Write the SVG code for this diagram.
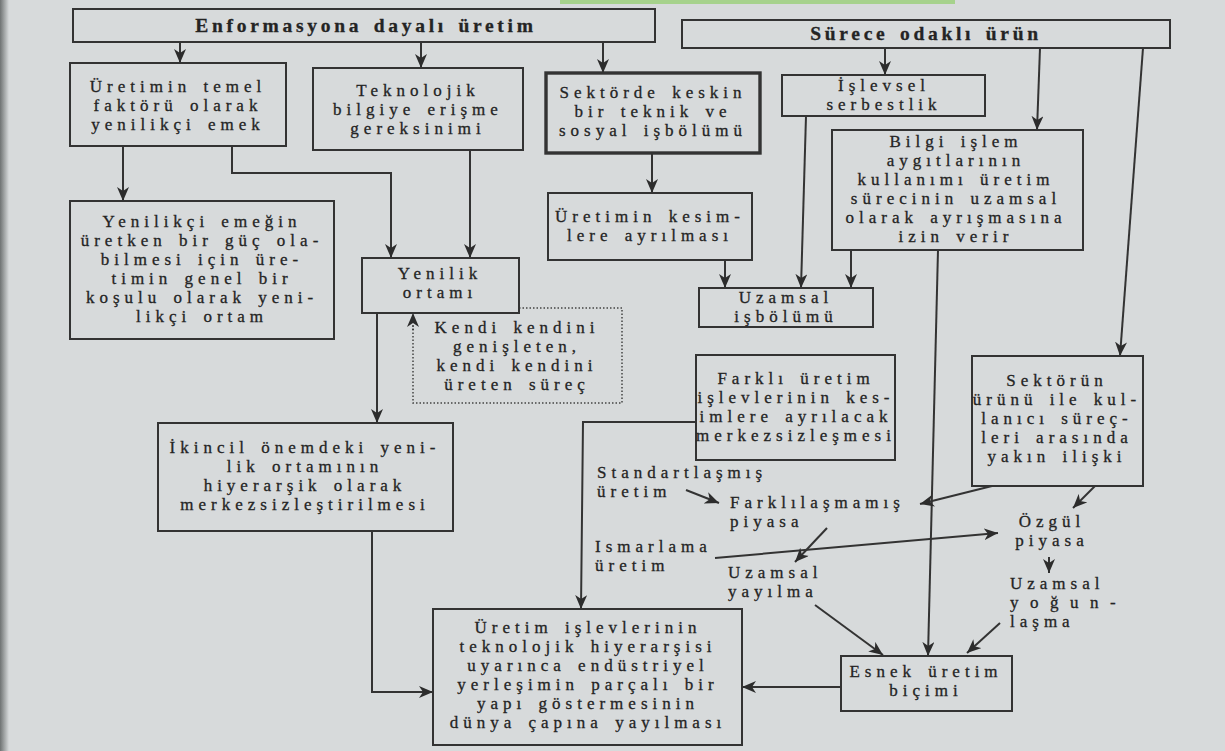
<svg xmlns="http://www.w3.org/2000/svg" width="1225" height="751" viewBox="0 0 1225 751">
<defs>
<linearGradient id="edge" x1="0" x2="1" y1="0" y2="0"><stop offset="0" stop-color="#6f7373"/><stop offset="1" stop-color="#d7dadb"/></linearGradient>
<marker id="ah" markerUnits="userSpaceOnUse" markerWidth="15" markerHeight="12" refX="14" refY="6" orient="auto"><path d="M0,0 L14,6 L0,12 L4,6 z" fill="#2c2c2c"/></marker>
<style>
.box{fill:none;stroke:#333;stroke-width:2}
.thick{stroke-width:3.4}
.t{font-family:"Liberation Serif","Times New Roman",serif;font-size:17px;letter-spacing:5px;word-spacing:3px;fill:#242424;stroke:#242424;stroke-width:0.3px;text-anchor:middle}
.l{text-anchor:start}
.b{font-weight:bold;font-size:19.5px;letter-spacing:3.7px}
.c{fill:none;stroke:#333;stroke-width:2;marker-end:url(#ah)}
.d{fill:none;stroke:#444;stroke-width:1.5;stroke-dasharray:1.5 2}
</style>
</defs>
<rect x="0" y="0" width="1225" height="751" fill="#d7dadb"/>
<rect x="0" y="0" width="9" height="751" fill="url(#edge)"/>
<rect x="560" y="0" width="395" height="4" fill="#a6d28c"/>

<g id="connectors">
<path class="c" d="M180,42 V63"/>
<path class="c" d="M421,42 V68"/>
<path class="c" d="M603,42 V73"/>
<path class="c" d="M885,48 V75"/>
<path class="c" d="M1040,48 L1037,130"/>
<path class="c" d="M1143,48 L1120,356"/>
<path class="c" d="M123,146 V201"/>
<path class="c" d="M232,146 V173 H391 V258"/>
<path class="c" d="M470,150 V258"/>
<path class="c" d="M652,153 V193"/>
<path class="c" d="M725,260 V288"/>
<path class="c" d="M806,116 L801,288"/>
<path class="c" d="M851,250 V288"/>
<path class="c" d="M938,250 L928,656"/>
<path class="c" d="M377,313 V423"/>
<path class="d" d="M519,308 H622 V403 H413 V326"/>
<path class="c" d="M413,330 V313" style="stroke-width:1.5;stroke-dasharray:1.5 2"/>
<path class="c" d="M372,531 V692 H433"/>
<path class="c" d="M696,422 H583 L581,609"/>
<path class="c" d="M841,687 H742"/>
<path class="c" d="M686,490 L719,503"/>
<path class="c" d="M992,486 L920,504"/>
<path class="c" d="M1095,486 L1073,508"/>
<path class="c" d="M1049,557 V573"/>
<path class="c" d="M715,558 L998,533"/>
<path class="c" d="M827,528 L795,562"/>
<path class="c" d="M815,605 L883,655"/>
<path class="c" d="M1000,623 L967,653"/>
</g>

<g id="n-enformasyon">
<rect class="box" x="73" y="9" width="582" height="33"/>
<text class="t b" x="366" y="32">Enformasyona dayalı üretim</text>
</g>
<g id="n-surece">
<rect class="box" x="682" y="20" width="488" height="28"/>
<text class="t b" x="926" y="40">Sürece odaklı ürün</text>
</g>
<g id="n-temel">
<rect class="box" x="70" y="63" width="216" height="83"/>
<text class="t" x="178" y="92">Üretimin temel</text>
<text class="t" x="178" y="111">faktörü olarak</text>
<text class="t" x="178" y="130">yenilikçi emek</text>
</g>
<g id="n-teknolojik">
<rect class="box" x="313" y="68" width="210" height="82"/>
<text class="t" x="418" y="96">Teknolojik</text>
<text class="t" x="418" y="115">bilgiye erişme</text>
<text class="t" x="418" y="134">gereksinimi</text>
</g>
<g id="n-sektorde">
<rect class="box thick" x="546" y="73" width="214" height="80"/>
<text class="t" x="653" y="98">Sektörde keskin</text>
<text class="t" x="653" y="117">bir teknik ve</text>
<text class="t" x="653" y="136">sosyal işbölümü</text>
</g>
<g id="n-islevsel">
<rect class="box" x="782" y="75" width="203" height="41"/>
<text class="t" x="884" y="91">İşlevsel</text>
<text class="t" x="884" y="110">serbestlik</text>
</g>
<g id="n-bilgi">
<rect class="box" x="832" y="130" width="251" height="120"/>
<text class="t" x="956" y="147">Bilgi işlem</text>
<text class="t" x="956" y="166">aygıtlarının</text>
<text class="t" x="956" y="185">kullanımı üretim</text>
<text class="t" x="956" y="204">sürecinin uzamsal</text>
<text class="t" x="956" y="223">olarak ayrışmasına</text>
<text class="t" x="956" y="242">izin verir</text>
</g>
<g id="n-kesimlere">
<rect class="box" x="548" y="193" width="204" height="67"/>
<text class="t" x="650" y="222">Üretimin kesim-</text>
<text class="t" x="650" y="241">lere ayrılması</text>
</g>
<g id="n-uzamsal-isbolumu">
<rect class="box" x="699" y="288" width="174" height="39"/>
<text class="t" x="786" y="303">Uzamsal</text>
<text class="t" x="786" y="322">işbölümü</text>
</g>
<g id="n-yenilikci-emegin">
<rect class="box" x="70" y="201" width="264" height="138"/>
<text class="t" x="202" y="227">Yenilikçi emeğin</text>
<text class="t" x="202" y="246">üretken bir güç ola-</text>
<text class="t" x="202" y="265">bilmesi için üre-</text>
<text class="t" x="202" y="284">timin genel bir</text>
<text class="t" x="202" y="303">koşulu olarak yeni-</text>
<text class="t" x="202" y="322">likçi ortam</text>
</g>
<g id="n-yenilik-ortami">
<rect class="box" x="362" y="258" width="157" height="55"/>
<text class="t" x="440" y="279">Yenilik</text>
<text class="t" x="440" y="298">ortamı</text>
</g>
<g id="n-kendi">
<text class="t" x="517" y="333">Kendi kendini</text>
<text class="t" x="517" y="352">genişleten,</text>
<text class="t" x="517" y="371">kendi kendini</text>
<text class="t" x="517" y="390">üreten süreç</text>
</g>
<g id="n-ikincil">
<rect class="box" x="158" y="423" width="295" height="108"/>
<text class="t" x="305" y="453">İkincil önemdeki yeni-</text>
<text class="t" x="305" y="472">lik ortamının</text>
<text class="t" x="305" y="491">hiyerarşik olarak</text>
<text class="t" x="305" y="510">merkezsizleştirilmesi</text>
</g>
<g id="n-farkli-uretim">
<rect class="box" x="696" y="355" width="199" height="105"/>
<text class="t" x="796" y="384">Farklı üretim</text>
<text class="t" x="796" y="403">işlevlerinin kes-</text>
<text class="t" x="796" y="422">imlere ayrılacak</text>
<text class="t" x="796" y="441">merkezsizleşmesi</text>
</g>
<g id="n-sektorun">
<rect class="box" x="972" y="356" width="171" height="130"/>
<text class="t" x="1057" y="386">Sektörün</text>
<text class="t" x="1057" y="405">ürünü ile kul-</text>
<text class="t" x="1057" y="424">lanıcı süreç-</text>
<text class="t" x="1057" y="443">leri arasında</text>
<text class="t" x="1057" y="462">yakın ilişki</text>
</g>
<g id="n-final">
<rect class="box" x="433" y="609" width="309" height="136"/>
<text class="t" x="588" y="633">Üretim işlevlerinin</text>
<text class="t" x="588" y="652">teknolojik hiyerarşisi</text>
<text class="t" x="588" y="671">uyarınca endüstriyel</text>
<text class="t" x="588" y="690">yerleşimin parçalı bir</text>
<text class="t" x="588" y="709">yapı göstermesinin</text>
<text class="t" x="588" y="728">dünya çapına yayılması</text>
</g>
<g id="n-esnek">
<rect class="box" x="841" y="656" width="171" height="55"/>
<text class="t" x="926" y="677">Esnek üretim</text>
<text class="t" x="926" y="696">biçimi</text>
</g>
<g id="n-standart">
<text class="t l" x="597" y="478">Standartlaşmış</text>
<text class="t l" x="597" y="497">üretim</text>
</g>
<g id="n-farklilasmamis">
<text class="t l" x="730" y="508">Farklılaşmamış</text>
<text class="t l" x="730" y="527">piyasa</text>
</g>
<g id="n-ismarlama">
<text class="t l" x="595" y="552">Ismarlama</text>
<text class="t l" x="595" y="571">üretim</text>
</g>
<g id="n-yayilma">
<text class="t l" x="728" y="578">Uzamsal</text>
<text class="t l" x="728" y="597">yayılma</text>
</g>
<g id="n-ozgul">
<text class="t" x="1052" y="527">Özgül</text>
<text class="t" x="1052" y="546">piyasa</text>
</g>
<g id="n-yogunlasma">
<text class="t l" x="1010" y="589">Uzamsal</text>
<text class="t l" x="1010" y="608" style="letter-spacing:11.5px">yoğun-</text>
<text class="t l" x="1010" y="627">laşma</text>
</g>
</svg>
